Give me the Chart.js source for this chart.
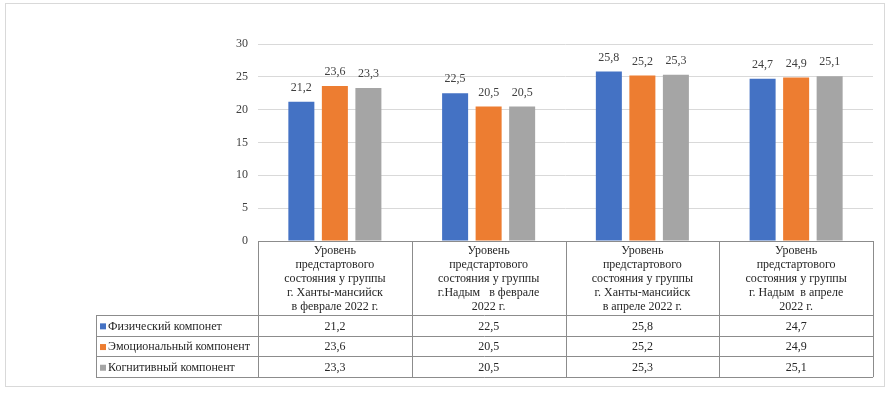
<!DOCTYPE html>
<html lang="ru">
<head>
  <meta charset="UTF-8" />
  <title>Уровень предстартового состояния</title>
  <script src="https://cdn.jsdelivr.net/npm/chart.js"></script>
  <style>
    body { margin: 0; background: #fff; }
    #wrap { width: 890px; height: 394px; }
  </style>
</head>
<body>
  <div id="wrap"><canvas id="chart" width="890" height="394"></canvas></div>

  <script>
    // categories (header cells of the data table, one entry per line)
    const categories = [
      ['Уровень', 'предстартового', 'состояния у группы', 'г. Ханты-мансийск', 'в феврале 2022 г.'],
      ['Уровень', 'предстартового', 'состояния у группы', 'г.Надым   в феврале', '2022 г.'],
      ['Уровень', 'предстартового', 'состояния у группы', 'г. Ханты-мансийск', 'в апреле 2022 г.'],
      ['Уровень', 'предстартового', 'состояния у группы', 'г. Надым  в апреле', '2022 г.']
    ];
    const seriesNames = ['Физический компонет', 'Эмоциональный компонент', 'Когнитивный компонент'];
    const physical = [21.2, 22.5, 25.8, 24.7];
    const emotional = [23.6, 20.5, 25.2, 24.9];
    const cognitive = [23.3, 20.5, 25.3, 25.1];
    const colors = ['#4472C4', '#ED7D31', '#A5A5A5'];
    const yTicks = [0, 5, 10, 15, 20, 25, 30];

    const fmt = v => String(v).replace('.', ',');
    const FONT = '"Liberation Serif", "Times New Roman", serif';

    // value labels over the bars
    const barLabels = {
      id: 'barLabels',
      afterDatasetsDraw(chart) {
        const ctx = chart.ctx;
        ctx.save();
        ctx.font = '12px ' + FONT;
        ctx.fillStyle = '#404040';
        ctx.textAlign = 'center';
        ctx.textBaseline = 'bottom';
        chart.data.datasets.forEach((ds, i) => {
          chart.getDatasetMeta(i).data.forEach((bar, j) => {
            ctx.fillText(fmt(ds.data[j]), bar.x, bar.y - 8);
          });
        });
        ctx.restore();
      }
    };

    // outer frame + data table under the plot
    const dataTable = {
      id: 'dataTable',
      beforeDraw(chart) {
        const ctx = chart.ctx;
        ctx.save();
        ctx.fillStyle = '#fff';
        ctx.fillRect(0, 0, chart.width, chart.height);
        ctx.strokeStyle = '#d9d9d9';
        ctx.lineWidth = 1;
        ctx.strokeRect(5.5, 3.5, 879, 383);
        ctx.restore();
      },
      afterDraw(chart) {
        const ctx = chart.ctx;
        const x = chart.scales.x;
        const area = chart.chartArea;
        const top = area.bottom;
        const headH = 74;
        const rowH = 20.7;
        const labelLeft = 96;
        const n = categories.length;
        const step = (area.right - area.left) / n;
        const bottom = top + headH + rowH * seriesNames.length;
        const rows = [physical, emotional, cognitive];

        ctx.save();
        ctx.strokeStyle = '#8c8c8c';
        ctx.lineWidth = 1;
        ctx.beginPath();
        // vertical lines of value columns
        for (let i = 0; i <= n; i++) {
          const lx = Math.round(area.left + step * i) + 0.5;
          ctx.moveTo(lx, top);
          ctx.lineTo(lx, bottom);
        }
        // left edge of the legend column
        ctx.moveTo(labelLeft + 0.5, top + headH);
        ctx.lineTo(labelLeft + 0.5, bottom);
        // horizontal lines
        for (let r = 0; r <= seriesNames.length; r++) {
          const ly = Math.round(top + headH + rowH * r) + 0.5;
          ctx.moveTo(labelLeft, ly);
          ctx.lineTo(area.right, ly);
        }
        ctx.stroke();

        ctx.font = '12px ' + FONT;
        ctx.fillStyle = '#262626';
        ctx.textAlign = 'center';
        ctx.textBaseline = 'middle';
        // header cells
        categories.forEach((lines, i) => {
          const cx = x.getPixelForValue(i);
          lines.forEach((t, k) => {
            ctx.fillText(t, cx, top + 10 + k * 14);
          });
        });
        // value cells
        rows.forEach((vals, r) => {
          const cy = top + headH + rowH * r + rowH / 2 + 1;
          vals.forEach((v, i) => {
            ctx.fillText(fmt(v), x.getPixelForValue(i), cy);
          });
        });
        // legend cells
        ctx.textAlign = 'left';
        seriesNames.forEach((name, r) => {
          const cy = top + headH + rowH * r + rowH / 2 + 1;
          ctx.fillStyle = colors[r];
          ctx.fillRect(labelLeft + 4, cy - 3, 6, 6);
          ctx.fillStyle = '#262626';
          ctx.fillText(name, labelLeft + 12, cy);
        });
        ctx.restore();
      }
    };

    new Chart(document.getElementById('chart'), {
      type: 'bar',
      data: {
        labels: categories,
        datasets: [
          { label: seriesNames[0], data: physical, backgroundColor: colors[0] },
          { label: seriesNames[1], data: emotional, backgroundColor: colors[1] },
          { label: seriesNames[2], data: cognitive, backgroundColor: colors[2] }
        ]
      },
      options: {
        responsive: false,
        animation: false,
        categoryPercentage: 0.654,
        barPercentage: 0.776,
        layout: { padding: { left: 0, right: 17, top: 44, bottom: 153 } },
        plugins: {
          legend: { display: false },
          tooltip: { enabled: false }
        },
        scales: {
          x: {
            grid: { display: false, drawTicks: false },
            border: { display: true, color: '#8c8c8c' },
            ticks: { display: false }
          },
          y: {
            min: 0,
            max: 30,
            afterFit(scale) { scale.width = 258; },
            afterBuildTicks(scale) { scale.ticks = yTicks.map(v => ({ value: v })); },
            grid: { color: '#d9d9d9', drawTicks: false },
            border: { display: false },
            ticks: {
              padding: 10,
              color: '#404040',
              font: { family: FONT, size: 12 }
            }
          }
        }
      },
      plugins: [barLabels, dataTable]
    });
  </script>
</body>
</html>
